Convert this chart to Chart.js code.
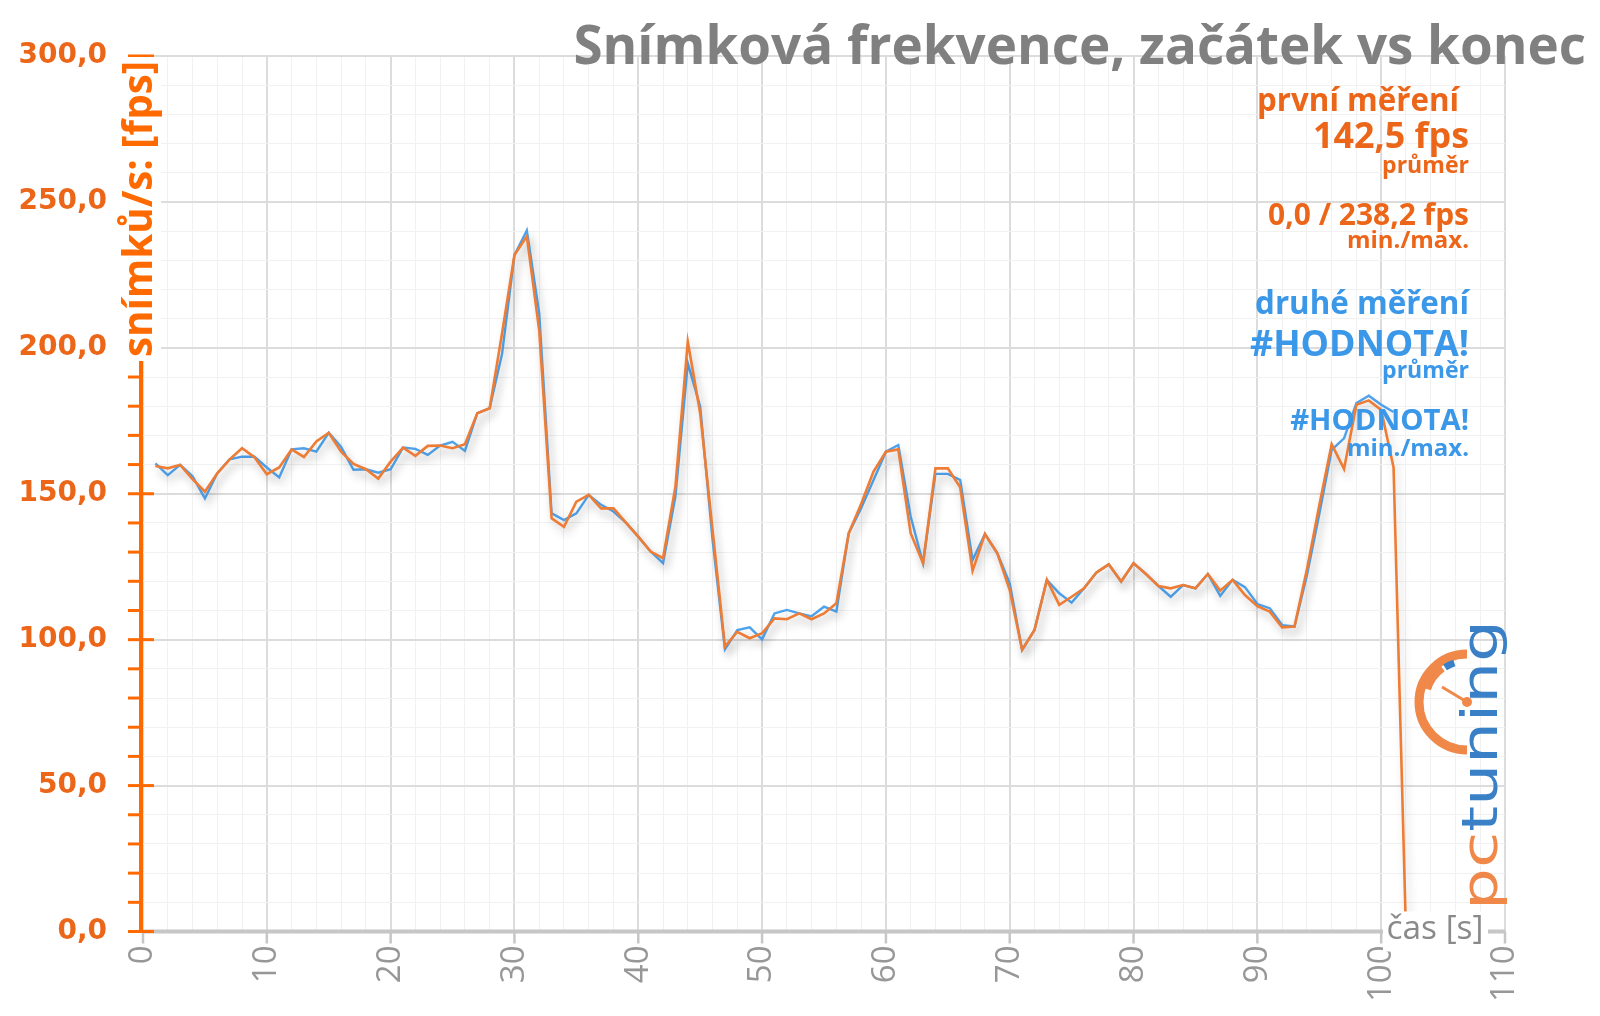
<!DOCTYPE html>
<html>
<head>
<meta charset="utf-8">
<script src="https://cdn.jsdelivr.net/npm/chart.js@4.4.1/dist/chart.umd.min.js"></script>
<style>
  html, body { margin: 0; padding: 0; background: #fff; }
  #wrap { width: 1600px; height: 1016px; }
</style>
</head>
<body>
<div id="wrap"><canvas id="chart" width="1600" height="1016"></canvas></div>
<script>
// Frame time samples, one per second
const secondsFirst = [1,2,3,4,5,6,7,8,9,10,11,12,13,14,15,16,17,18,19,20,21,22,23,24,25,26,27,28,29,30,
  31,32,33,34,35,36,37,38,39,40,41,42,43,44,45,46,47,48,49,50,51,52,53,54,55,56,57,58,59,60,
  61,62,63,64,65,66,67,68,69,70,71,72,73,74,75,76,77,78,79,80,81,82,83,84,85,86,87,88,89,90,
  91,92,93,94,95,96,97,98,99,100,101,102];
const fpsFirst = [159.5,158.7,159.9,155,150.7,157,161.8,165.6,162.5,156.7,159,165.2,162.6,167.9,170.9,164.4,160.2,158.4,155.2,161,
  165.8,163,166.4,166.5,165.6,167,177.6,179.3,205,231.8,238.2,206,141.6,138.7,147.3,149.6,145,145,140.1,135.3,
  130.2,127.9,152.4,202.1,177.6,137.6,97.6,102.7,100.5,102.2,107.3,107,109,107,109,112.5,136.5,146.5,157.6,164.4,
  165.2,136.5,126.2,158.7,158.7,152.2,123.6,136.2,129.6,117,96.5,103.3,120.5,111.9,114.7,117.6,123,125.8,119.9,126.2,
  122.5,118.4,117.6,118.7,117.6,122.5,116.8,120.5,115.3,111.5,109.6,104.2,104.5,124,146,167,158.5,180.5,182,178.7,
  159,0];

const secondsSecond = secondsFirst.slice(0, 101);
const fpsSecond = [160.4,156.4,159.9,156,148.4,157,161.8,162.7,162.7,159,155.6,165.2,165.6,164.4,170.9,166,158.2,158.4,157.2,158.4,
  165.8,165.4,163.3,166.5,167.8,164.7,177.6,179.3,198,231.8,240.2,211.9,143.3,141,143.3,149.6,146.2,143.9,140.1,135.3,
  130.2,126.2,149,194.7,179.9,134.2,96.7,103.3,104.2,100.1,109,110.2,109,108,111.3,109.6,136.5,145,154.7,164.4,
  166.7,142.2,126.2,156.8,156.8,154.7,127.3,136.2,129.6,119.3,96.5,103.3,120.5,115.9,112.7,117.6,123,125.8,119.9,126.2,
  122.5,118.4,114.7,118.7,117.6,122.5,115,120.5,118,112.2,110.8,105,104.5,122,143,165,169,181.1,183.6,180.5,
  178];

const chartTitle = 'Snímková frekvence, začátek vs konec';
const yAxisTitle = 'snímků/s: [fps]';
const xAxisTitle = 'čas [s]';
const legendFirst = ['první měření', '142,5 fps', 'průměr', '0,0 / 238,2 fps', 'min./max.'];
const legendSecond = ['druhé měření', '#HODNOTA!', 'průměr', '#HODNOTA!', 'min./max.'];

const COLORS = {
  orangeLine: '#ee7c34',
  blueLine: '#4fa2ec',
  orangeAxis: '#ff6a00',
  orangeText: '#ec6619',
  blueText: '#3b97e8',
  grey: '#808080',
  greyAxis: '#c6c6c6',
  gridMajor: '#dcdcdc',
  gridMinor: '#f1f1f1',
  logoOrange: '#f0884a',
  logoBlue: '#3a80c6'
};

const toPoints = (xs, ys) => xs.map((x, i) => ({ x, y: ys[i] }));

// Sets font size so the text fills the given width
function fitFont(ctx, text, width, weight, family) {
  ctx.font = `${weight} 100px ${family}`;
  const size = 100 * width / ctx.measureText(text).width;
  ctx.font = `${weight} ${size}px ${family}`;
  return size;
}

function drawRight(ctx, text, right, midY, width, weight, color) {
  fitFont(ctx, text, width, weight, '"Open Sans"');
  ctx.fillStyle = color;
  ctx.textAlign = 'right';
  ctx.textBaseline = 'middle';
  ctx.fillText(text, right, midY);
}

const shadowPlugin = {
  id: 'lineShadow',
  beforeDatasetDraw(chart) {
    const ctx = chart.ctx;
    ctx.save();
    ctx.shadowColor = 'rgba(0,0,0,0.2)';
    ctx.shadowBlur = 10;
    ctx.shadowOffsetX = 3;
    ctx.shadowOffsetY = 6;
  },
  afterDatasetDraw(chart) {
    chart.ctx.restore();
  }
};

function drawLogo(ctx) {
  // wordmark, reading bottom to top
  ctx.save();
  ctx.translate(1497, 910);
  ctx.rotate(-Math.PI / 2);
  ctx.font = '400 50px "DejaVu Sans"';
  const stretch = 290 / ctx.measureText('pctuning').width;
  ctx.scale(stretch, 1);
  ctx.textAlign = 'left';
  ctx.textBaseline = 'alphabetic';
  ctx.fillStyle = COLORS.logoOrange;
  ctx.fillText('pc', 0, 0);
  const pcW = ctx.measureText('pc').width;
  ctx.fillStyle = COLORS.logoBlue;
  ctx.fillText('tuning', pcW, 0);
  ctx.restore();

  // gauge
  ctx.save();
  ctx.lineCap = 'butt';
  ctx.strokeStyle = COLORS.logoOrange;
  ctx.lineWidth = 9;
  ctx.beginPath();
  ctx.arc(1467, 702, 48, Math.PI / 2, Math.PI * 1.5);
  ctx.stroke();
  ctx.lineWidth = 6;
  ctx.beginPath();
  ctx.arc(1467, 702, 41, Math.PI * 1.1, Math.PI * 1.3);
  ctx.stroke();
  ctx.strokeStyle = COLORS.logoBlue;
  ctx.lineWidth = 7;
  ctx.beginPath();
  ctx.arc(1467, 702, 41, Math.PI * 1.32, Math.PI * 1.4);
  ctx.stroke();
  ctx.strokeStyle = COLORS.logoOrange;
  ctx.lineWidth = 3;
  ctx.beginPath();
  ctx.moveTo(1467, 702);
  ctx.lineTo(1442, 687);
  ctx.stroke();
  ctx.fillStyle = COLORS.logoOrange;
  ctx.beginPath();
  ctx.arc(1467, 702, 5, 0, Math.PI * 2);
  ctx.fill();
  ctx.restore();
}

const decorPlugin = {
  id: 'decor',
  afterDraw(chart) {
    const ctx = chart.ctx;
    const xs = chart.scales.x;
    const ys = chart.scales.y;
    const x0 = xs.getPixelForValue(0);
    const y0 = ys.getPixelForValue(0);
    ctx.save();

    // x axis line and ticks
    ctx.strokeStyle = COLORS.greyAxis;
    ctx.lineWidth = 4;
    ctx.beginPath();
    ctx.moveTo(x0, y0);
    ctx.lineTo(xs.getPixelForValue(110), y0);
    ctx.stroke();
    ctx.lineWidth = 2.5;
    xs.ticks.forEach(t => {
      if (t.value % 10 !== 0) return;
      const px = xs.getPixelForValue(t.value);
      ctx.beginPath();
      ctx.moveTo(px, y0);
      ctx.lineTo(px, y0 + 12);
      ctx.stroke();
    });

    // y axis line and ticks
    ctx.strokeStyle = COLORS.orangeAxis;
    ctx.lineWidth = 4;
    ctx.beginPath();
    ctx.moveTo(x0 - 2, ys.getPixelForValue(300));
    ctx.lineTo(x0 - 2, y0);
    ctx.stroke();
    ctx.lineWidth = 3;
    ys.ticks.forEach(t => {
      const py = ys.getPixelForValue(t.value);
      ctx.beginPath();
      ctx.moveTo(x0 - 15, py);
      ctx.lineTo(t.value % 50 === 0 ? x0 + 11 : x0 - 2, py);
      ctx.stroke();
    });

    // y axis title, vertical, over the axis line
    ctx.save();
    ctx.translate(x0 - 2, 209);
    ctx.rotate(-Math.PI / 2);
    const ySize = fitFont(ctx, yAxisTitle, 296, 700, '"Open Sans"');
    ctx.fillStyle = '#fff';
    ctx.fillRect(-152, -ySize * 0.5, 304, ySize);
    ctx.fillStyle = COLORS.orangeAxis;
    ctx.textAlign = 'center';
    ctx.textBaseline = 'middle';
    ctx.fillText(yAxisTitle, 0, 0);
    ctx.restore();

    // x axis title, over the axis line
    const xSize = fitFont(ctx, xAxisTitle, 97, 400, '"Open Sans"');
    ctx.fillStyle = '#fff';
    ctx.fillRect(1383, y0 - xSize * 0.6, 105, xSize * 1.2);
    ctx.fillStyle = '#8a8a8a';
    ctx.textAlign = 'center';
    ctx.textBaseline = 'middle';
    ctx.fillText(xAxisTitle, 1435, y0 - 2);

    // chart title
    drawRight(ctx, chartTitle, 1586, 49, 1013, 700, COLORS.grey);

    // legend blocks
    const right = 1469;
    drawRight(ctx, legendFirst[0], right - 10, 102, 202, 700, COLORS.orangeText);
    drawRight(ctx, legendFirst[1], right, 138, 156, 700, COLORS.orangeText);
    drawRight(ctx, legendFirst[2], right, 166, 87, 700, COLORS.orangeText);
    drawRight(ctx, legendFirst[3], right, 216, 201, 700, COLORS.orangeText);
    drawRight(ctx, legendFirst[4], right, 241, 122, 700, COLORS.orangeText);
    drawRight(ctx, legendSecond[0], right, 305, 214, 700, COLORS.blueText);
    drawRight(ctx, legendSecond[1], right, 346, 219, 700, COLORS.blueText);
    drawRight(ctx, legendSecond[2], right, 371, 87, 700, COLORS.blueText);
    drawRight(ctx, legendSecond[3], right, 422, 179, 700, COLORS.blueText);
    drawRight(ctx, legendSecond[4], right, 449, 122, 700, COLORS.blueText);

    drawLogo(ctx);
    ctx.restore();
  }
};

new Chart(document.getElementById('chart'), {
  type: 'line',
  data: {
    datasets: [
      {
        label: legendFirst[0],
        data: toPoints(secondsFirst, fpsFirst),
        borderColor: COLORS.orangeLine,
        borderWidth: 2.6,
        pointRadius: 0,
        tension: 0,
        fill: false
      },
      {
        label: legendSecond[0],
        data: toPoints(secondsSecond, fpsSecond),
        borderColor: COLORS.blueLine,
        borderWidth: 2.4,
        pointRadius: 0,
        tension: 0,
        fill: false
      }
    ]
  },
  options: {
    responsive: false,
    animation: false,
    layout: { padding: { left: 0, right: 95, top: 56, bottom: 0 } },
    plugins: {
      legend: { display: false },
      tooltip: { enabled: false }
    },
    scales: {
      x: {
        type: 'linear',
        min: 0,
        max: 110,
        afterFit: (scale) => { scale.height = 84.5; },
        border: { display: false },
        grid: {
          drawTicks: false,
          color: (c) => c.tick.value % 10 === 0 ? COLORS.gridMajor : COLORS.gridMinor,
          lineWidth: (c) => c.tick.value % 10 === 0 ? 2 : 1
        },
        ticks: {
          stepSize: 2,
          autoSkip: false,
          minRotation: 90,
          maxRotation: 90,
          padding: 14,
          color: '#979797',
          font: { family: '"Open Sans"', size: 33, weight: 400 },
          callback: (v) => v % 10 === 0 ? String(v) : ''
        }
      },
      y: {
        min: 0,
        max: 300,
        afterFit: (scale) => { scale.width = 143; },
        border: { display: false },
        grid: {
          drawTicks: false,
          color: (c) => c.tick.value % 50 === 0 ? COLORS.gridMajor : COLORS.gridMinor,
          lineWidth: (c) => c.tick.value % 50 === 0 ? 2 : 1
        },
        ticks: {
          stepSize: 10,
          autoSkip: false,
          padding: 36,
          color: COLORS.orangeText,
          font: { family: '"DejaVu Sans"', size: 28, weight: 'bold' },
          callback: (v) => v % 50 === 0 ? v.toFixed(1).replace('.', ',') : ''
        }
      }
    }
  },
  plugins: [shadowPlugin, decorPlugin]
});
</script>
</body>
</html>
